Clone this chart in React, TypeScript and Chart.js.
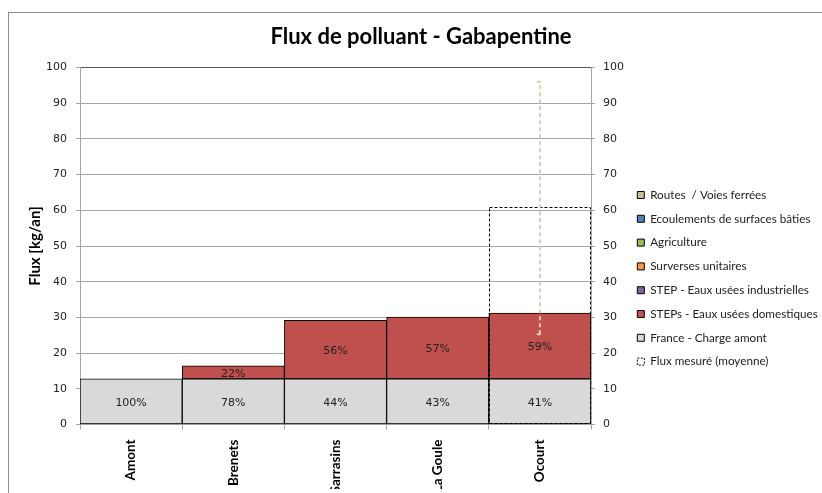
import React, { useEffect, useRef } from 'react';
import { Chart, registerables } from 'chart.js';

Chart.register(...registerables);

// ---- data ----
const categories = ['Amont', 'Brenets', 'Sarrasins', 'La Goule', 'Ocourt'];
const franceChargeAmont = [12.8, 12.8, 12.8, 12.8, 12.8];
const stepsDomestiques = [null, 3.6, 16.4, 17.3, 18.4];
const stepIndustrielles = [null, null, null, null, null];
const surversesUnitaires = [null, null, null, null, null];
const agriculture = [null, null, null, null, null];
const ecoulementsSurfaces = [null, null, null, null, null];
const routesVoies = [null, null, null, null, null];
const fluxMesure = [null, null, null, null, 60.8];
const fluxMin = [null, null, null, null, 25.3];
const fluxMax = [null, null, null, null, 96];
const francePctLabels = ['100%', '78%', '44%', '43%', '41%'];
const stepsPctLabels = ['', '22%', '56%', '57%', '59%'];

// ---- layout constants ----
const CANVAS_W = 842;
const CANVAS_H = 493;
const LEGEND_W = 216.8;
const LEGEND_TOP = 67.6;
const Y2_W = 34.2;
const Y_W = 80;
const X_H = 64.5;

const GRID = '#a6a6a6';

const decorPlugin = {
  id: 'decor',
  beforeLayout(chart: any) {
    const lg: any = chart.legend;
    if (lg && !lg.__patched) {
      const orig = lg.fit;
      lg.fit = function () {
        orig.call(this);
        this.width = LEGEND_W;
      };
      lg.__patched = true;
    }
  },
  afterLayout(chart: any) {
    const lg: any = chart.legend;
    if (lg) {
      lg.top = LEGEND_TOP;
      lg.height = lg.bottom - lg.top;
    }
  },
  beforeDraw(chart: any) {
    const ctx = chart.ctx;
    ctx.save();
    ctx.fillStyle = '#fff';
    ctx.fillRect(0, 0, chart.width, chart.height);
    ctx.strokeStyle = '#8c8c8c';
    ctx.lineWidth = 1;
    ctx.strokeRect(8.5, 12.5, chart.width + 20, chart.height + 20);
    ctx.restore();
  },
  afterDatasetsDraw(chart: any) {
    const ctx = chart.ctx;
    const yScale = chart.scales.y;
    // measured flux: dashed box + error bar
    const fluxMeta = chart.getDatasetMeta(0);
    fluxMeta.data.forEach((el: any, i: number) => {
      if (fluxMesure[i] == null) return;
      const { x, y, base, width } = el.getProps(['x', 'y', 'base', 'width'], true);
      ctx.save();
      ctx.setLineDash([3, 2]);
      ctx.strokeStyle = '#000';
      ctx.lineWidth = 1;
      const l = Math.round(x - width / 2) + 0.5;
      const t = Math.round(y) + 0.5;
      ctx.strokeRect(l, t, Math.round(width) - 1, Math.round(base) - Math.round(y) - 1);
      ctx.restore();
      const lo = fluxMin[i];
      const hi = fluxMax[i];
      if (lo != null && hi != null) {
        const yLo = yScale.getPixelForValue(lo);
        const yHi = yScale.getPixelForValue(hi);
        ctx.save();
        ctx.strokeStyle = '#d8d1af';
        ctx.lineWidth = 2;
        ctx.setLineDash([4, 3]);
        ctx.beginPath();
        ctx.moveTo(x, yLo);
        ctx.lineTo(x, yHi);
        ctx.stroke();
        ctx.setLineDash([]);
        ctx.beginPath();
        ctx.moveTo(x - 3, yHi);
        ctx.lineTo(x + 1, yHi);
        ctx.moveTo(x - 3, yLo);
        ctx.lineTo(x + 1, yLo);
        ctx.stroke();
        ctx.restore();
      }
    });
    // percent labels
    const drawLabels = (dsIndex: number, labels: string[]) => {
      const meta = chart.getDatasetMeta(dsIndex);
      meta.data.forEach((el: any, i: number) => {
        const txt = labels[i];
        if (!txt) return;
        const { x, y, base } = el.getProps(['x', 'y', 'base'], true);
        ctx.save();
        ctx.font = '11px "DejaVu Sans"';
        ctx.fillStyle = '#222';
        ctx.textAlign = 'center';
        ctx.textBaseline = 'middle';
        ctx.fillText(txt, x, (y + base) / 2 + 1.5);
        ctx.restore();
      });
    };
    drawLabels(1, francePctLabels);
    drawLabels(2, stepsPctLabels);
  },
};

const barBase = { borderColor: '#000', borderWidth: 1, borderSkipped: false as const, grouped: false, stack: 'sources' };

export default function App() {
  const ref = useRef<HTMLCanvasElement>(null);
  useEffect(() => {
    const canvas = ref.current;
    if (!canvas) return;
    const chart = new Chart(canvas, {
      type: 'bar',
      data: {
        labels: categories,
        datasets: [
          { label: 'Flux mesuré (moyenne)', data: fluxMesure, stack: 'mesure', grouped: false, backgroundColor: 'rgba(0,0,0,0)', borderColor: '#000', borderWidth: 0 },
          { label: 'France - Charge amont', data: franceChargeAmont, backgroundColor: '#d9d9d9', ...barBase },
          { label: 'STEPs - Eaux usées domestiques', data: stepsDomestiques, backgroundColor: '#c0504d', ...barBase },
          { label: 'STEP - Eaux usées industrielles', data: stepIndustrielles, backgroundColor: '#8064a2', ...barBase },
          { label: 'Surverses unitaires', data: surversesUnitaires, backgroundColor: '#f79646', ...barBase },
          { label: 'Agriculture', data: agriculture, backgroundColor: '#9bbb59', ...barBase },
          { label: 'Ecoulements de surfaces bâties', data: ecoulementsSurfaces, backgroundColor: '#4f81bd', ...barBase },
          { label: 'Routes  / Voies ferrées', data: routesVoies, backgroundColor: '#c4bd97', ...barBase },
        ] as any,
      },
      options: {
        responsive: false,
        animation: false,
        devicePixelRatio: 1,
        layout: { padding: { left: 0, right: 0, top: 0, bottom: 4 } },
        datasets: { bar: { barPercentage: 1, categoryPercentage: 1 } } as any,
        plugins: {
          tooltip: { enabled: false },
          title: {
            display: true,
            text: 'Flux de polluant - Gabapentine',
            color: '#000',
            font: { family: 'Lato', size: 22, weight: 'bold' },
            padding: { top: 23.8, bottom: 17.3 },
          },
          legend: {
            display: true,
            position: 'right',
            reverse: true,
            labels: {
              boxWidth: 7,
              boxHeight: 7,
              padding: 12.1,
              color: '#222',
              font: { family: 'Lato', size: 11.7 },
              generateLabels: (ch: any) => {
                const items = Chart.defaults.plugins.legend.labels.generateLabels(ch);
                return items.map((it: any) => {
                  if (it.datasetIndex === 0) {
                    return { ...it, fillStyle: '#fff', strokeStyle: '#000', lineWidth: 1, lineDash: [2, 1.5] };
                  }
                  return { ...it, strokeStyle: '#000', lineWidth: 1 };
                });
              },
            },
          },
        },
        scales: {
          x: {
            stacked: true,
            offset: true,
            grid: { offset: true, drawOnChartArea: false, drawTicks: true, tickLength: 5, color: GRID },
            border: { color: GRID },
            ticks: {
              minRotation: 90,
              maxRotation: 90,
              padding: 10,
              color: '#000',
              font: { family: 'Lato', size: 13.5, weight: 'bold' },
            },
            afterFit: (axis: any) => { axis.height = X_H; },
          },
          y: {
            stacked: true,
            position: 'left',
            min: 0,
            max: 100,
            ticks: { stepSize: 10, padding: 9, color: '#222', font: { family: 'DejaVu Sans', size: 11 } },
            grid: {
              color: (c: any) => (c.tick && c.tick.value === 100 ? '#595959' : GRID),
              tickColor: GRID,
              tickLength: 4,
            },
            border: { color: GRID },
            title: {
              display: true,
              text: 'Flux [kg/an]',
              color: '#000',
              font: { family: 'Lato', size: 15, weight: 'bold' },
              padding: { top: 26.5, bottom: 0 },
            },
            afterFit: (axis: any) => { axis.width = Y_W; },
          },
          y2: {
            position: 'right',
            min: 0,
            max: 100,
            ticks: { stepSize: 10, padding: 8, color: '#222', font: { family: 'DejaVu Sans', size: 11 } },
            grid: { drawOnChartArea: false, tickLength: 4, color: GRID },
            border: { color: GRID },
            afterFit: (axis: any) => { axis.width = Y2_W; },
          },
        },
      } as any,
      plugins: [decorPlugin as any],
    });
    return () => chart.destroy();
  }, []);
  return (
    <div style={{ position: 'absolute', left: 0, top: 0, width: 822, height: CANVAS_H, overflow: 'hidden', background: '#fff' }}>
      <canvas ref={ref} width={CANVAS_W} height={CANVAS_H} style={{ display: 'block', width: CANVAS_W, height: CANVAS_H }} />
    </div>
  );
}
